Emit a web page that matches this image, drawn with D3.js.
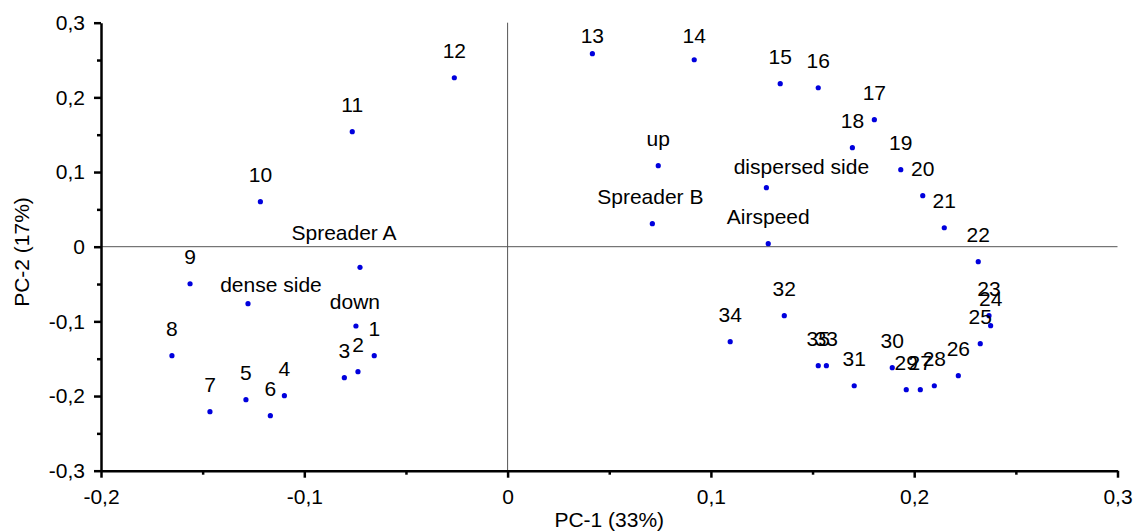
<!DOCTYPE html>
<html>
<head>
<meta charset="utf-8">
<script src="https://cdn.jsdelivr.net/npm/d3@7"></script>
<style>
    body { margin: 0; background: #fff; }
    svg text { font-family: Arial, "Liberation Sans", sans-serif; font-size: 21px; fill: #000; }
</style>
</head>
<body>
<svg id="chart" width="1138" height="531"></svg>
<script>
// Scores (samples 1..35) and loadings
const names = ['1', '2', '3', '4', '5', '6', '7', '8', '9', '10',
    '11', '12', '13', '14', '15', '16', '17', '18', '19', '20',
    '21', '22', '23', '24', '25', '26', '27', '28', '29', '30',
    '31', '32', '33', '34', '35',
    'Spreader A', 'dense side', 'down', 'up', 'Spreader B', 'dispersed side', 'Airspeed'];
const pc1 = [-0.0656, -0.0736, -0.0803, -0.1098, -0.1287, -0.1167, -0.1464, -0.1651, -0.1562, -0.1216,
    -0.0764, -0.0262, 0.0417, 0.0918, 0.1341, 0.1528, 0.1804, 0.1696, 0.1934, 0.2042,
    0.2148, 0.2315, 0.2368, 0.2376, 0.2325, 0.2217, 0.2030, 0.2099, 0.1961, 0.1892,
    0.1705, 0.1361, 0.1568, 0.1095, 0.1528,
    -0.0726, -0.1277, -0.0746, 0.0741, 0.0712, 0.1273, 0.1282];
const pc2 = [-0.1460, -0.1674, -0.1754, -0.1995, -0.2049, -0.2263, -0.2210, -0.1460, -0.0496, 0.0603,
    0.1540, 0.2263, 0.2585, 0.2504, 0.2183, 0.2129, 0.1701, 0.1326, 0.1031, 0.0683,
    0.0254, -0.0201, -0.0924, -0.1058, -0.1299, -0.1728, -0.1915, -0.1862, -0.1915, -0.1620,
    -0.1862, -0.0924, -0.1594, -0.1272, -0.1594,
    -0.0276, -0.0763, -0.1062, 0.1085, 0.0308, 0.0790, 0.0040];
const xTicks = [-0.2, -0.1, 0, 0.1, 0.2, 0.3];
const yTicks = [-0.3, -0.2, -0.1, 0, 0.1, 0.2, 0.3];
const xTitle = 'PC-1 (33%)';
const yTitle = 'PC-2 (17%)';

// Label placement (pixels from the point), default is centred above
const labelShift = {
    'Spreader A': [-16, -27],
    'dense side': [23, -12],
    'down': [-1, -17],
    '13': [0, -11],
    '14': [0, -17],
    'dispersed side': [35, -14],
    'Spreader B': [-2, -20]
};

const width = 1138, height = 531;
const margin = { top: 22.7, right: 20.5, bottom: 60.3, left: 101 };

const svg = d3.select('#chart');

const x = d3.scaleLinear().domain([-0.2, 0.3]).range([margin.left, width - margin.right]);
const y = d3.scaleLinear().domain([-0.3, 0.3]).range([height - margin.bottom, margin.top]);

const fmt = d => d === 0 ? '0' : d3.format('.1f')(d).replace('.', ',').replace('−', '-');

// Zero lines
svg.append('line')
    .attr('x1', x(0)).attr('x2', x(0))
    .attr('y1', y(0.3)).attr('y2', y(-0.3))
    .attr('stroke', '#555').attr('stroke-width', 1);
svg.append('line')
    .attr('x1', x(-0.2)).attr('x2', x(0.3))
    .attr('y1', y(0)).attr('y2', y(0))
    .attr('stroke', '#555').attr('stroke-width', 1);

// Minor ticks first, then the major axes on top
svg.append('g')
    .attr('transform', `translate(0,${y(-0.3)})`)
    .call(d3.axisBottom(x).tickValues(d3.range(-0.15, 0.3, 0.1)).tickSize(4).tickFormat(''))
    .call(g => g.select('.domain').remove())
    .selectAll('line').attr('stroke-width', 2.5);
svg.append('g')
    .attr('transform', `translate(${x(-0.2)},0)`)
    .call(d3.axisLeft(y).tickValues(d3.range(-0.25, 0.3, 0.1)).tickSize(4).tickFormat(''))
    .call(g => g.select('.domain').remove())
    .selectAll('line').attr('stroke-width', 2.5);

const xAxis = svg.append('g')
    .attr('transform', `translate(0,${y(-0.3)})`)
    .call(d3.axisBottom(x).tickValues(xTicks).tickSize(7).tickSizeOuter(0).tickPadding(11.6).tickFormat(fmt));
const yAxis = svg.append('g')
    .attr('transform', `translate(${x(-0.2)},0)`)
    .call(d3.axisLeft(y).tickValues(yTicks).tickSize(7).tickSizeOuter(0).tickPadding(9).tickFormat(fmt));

[xAxis, yAxis].forEach(a => {
    a.attr('font-size', null).attr('font-family', null);
    a.select('.domain').attr('stroke-width', 2.5);
    a.selectAll('.tick line').attr('stroke-width', 2.5);
});

// Axis titles
svg.append('text')
    .attr('x', (x(-0.2) + x(0.3)) / 2)
    .attr('y', 526.5)
    .attr('text-anchor', 'middle')
    .text(xTitle);
svg.append('text')
    .attr('transform', `translate(28.5,${252}) rotate(-90)`)
    .attr('text-anchor', 'middle')
    .text(yTitle);

// Points and labels
const pts = names.map((n, i) => ({ name: n, x: pc1[i], y: pc2[i] }));

svg.append('g').selectAll('circle')
    .data(pts)
    .join('circle')
    .attr('cx', d => x(d.x))
    .attr('cy', d => y(d.y))
    .attr('r', 2.6)
    .attr('fill', '#0000dd');

svg.append('g').selectAll('text')
    .data(pts)
    .join('text')
    .attr('x', d => x(d.x) + (labelShift[d.name] ? labelShift[d.name][0] : 0))
    .attr('y', d => y(d.y) + (labelShift[d.name] ? labelShift[d.name][1] : -20))
    .attr('text-anchor', 'middle')
    .text(d => d.name);
</script>
</body>
</html>
